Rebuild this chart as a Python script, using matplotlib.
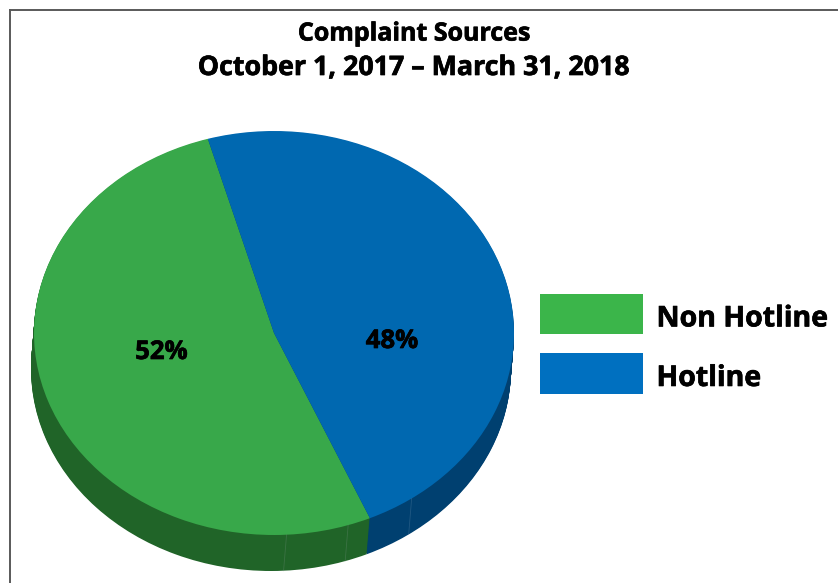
#!/usr/bin/env python3
"""Complaint sources 3D-looking pie, built from stacked matplotlib pies."""
import numpy as np
import matplotlib
matplotlib.use("Agg")
import matplotlib.pyplot as plt
import matplotlib.patheffects as pe
from matplotlib.legend_handler import HandlerPatch
from matplotlib.lines import Line2D
from matplotlib.patches import Patch, Rectangle

W, H = 838, 583
FONT = "Open Sans"

title_lines = ["Complaint Sources", "October 1, 2017 \u2013 March 31, 2018"]
labels = ["Non Hotline", "Hotline"]
shares = [52.1, 47.9]
top_colors = ["#38a84a", "#0068b0"]
side_colors = ["#206428", "#004070"]
legend_colors = ["#3bb54a", "#0070c0"]
seam_angles = [-87, -72, -55]
START_ANGLE = 106

# the face of this font is a bit lighter than the original, thicken it a touch
HEAVY = [pe.withStroke(linewidth=0.5, foreground="black")]


def px_x(x):
    return x / W


def px_y(y):
    return 1 - y / H


def raised_box(legend, orig_handle, xdescent, ydescent, width, height, fontsize):
    # legend boxes sit a little higher than their label
    return Rectangle((-xdescent, -ydescent + 2.5), width, height)


fig = plt.figure(figsize=(W / 100, H / 100), dpi=100)
fig.patch.set_facecolor("white")

# outer frame: only the top and left edges are in the picture
fig.add_artist(Line2D([px_x(10), px_x(10)], [0, px_y(10)], color="#595959", lw=1.4))
fig.add_artist(Line2D([px_x(10), 1], [px_y(10), px_y(10)], color="#595959", lw=1.4))

# axes is stretched so the unit circle of the pie lands on the ellipse
ax = fig.add_axes([px_x(34), px_y(535), 480 / W, 404 / H])

# side wall: same pie repeated, stepping down and slightly left
depth_x = 3 / 240
depth_y = 36 / 202
for t in np.linspace(1, 0.02, 40):
    ax.pie(shares, colors=side_colors, startangle=START_ANGLE, radius=1,
           center=(-depth_x * t, -depth_y * t), wedgeprops={"linewidth": 0})

for a in seam_angles:
    x = np.cos(np.radians(a))
    y = np.sin(np.radians(a))
    ax.plot([x, x - depth_x], [y, y - depth_y], color="#6d8c78" if a < -60 else "#5a84a4", lw=0.6, alpha=0.35)

ax.pie(shares, colors=top_colors, startangle=START_ANGLE, radius=1, wedgeprops={"linewidth": 0})
ax.set_aspect("auto")
ax.set_xlim(-1, 1)
ax.set_ylim(-1, 1)
for p in ax.patches:
    p.set_clip_on(False)
for ln in ax.lines:
    ln.set_clip_on(False)

# percentages
fig.text(px_x(161.5), px_y(351.5), f"{shares[0]:.0f}%", fontsize=18.5, fontweight="bold", family=FONT, ha="center", va="center", color="black", path_effects=HEAVY)
fig.text(px_x(392), px_y(340.5), f"{shares[1]:.0f}%", fontsize=18.5, fontweight="bold", family=FONT, ha="center", va="center", color="black", path_effects=HEAVY)

# title
fig.text(px_x(414.5), px_y(34), title_lines[0], fontsize=18, fontweight="bold", family=FONT, ha="center", va="center", color="black", path_effects=HEAVY)
fig.text(px_x(414), px_y(68), title_lines[1], fontsize=19.3, fontweight="bold", family=FONT, ha="center", va="center", color="black", path_effects=HEAVY)

handles = [Patch(facecolor=c, edgecolor="none", label=l) for c, l in zip(legend_colors, labels)]
leg = fig.legend(handles=handles, loc="center left", bbox_to_anchor=(px_x(540), px_y(347)), frameon=False,
                 borderpad=0, borderaxespad=0, handlelength=3.62, handleheight=1.81, handletextpad=0.47,
                 labelspacing=0.67, prop={"family": FONT, "weight": "bold", "size": 20.5},
                 handler_map={Patch: HandlerPatch(patch_func=raised_box)})
for t in leg.get_texts():
    t.set_path_effects(HEAVY)

fig.savefig("out.png", dpi=100)
